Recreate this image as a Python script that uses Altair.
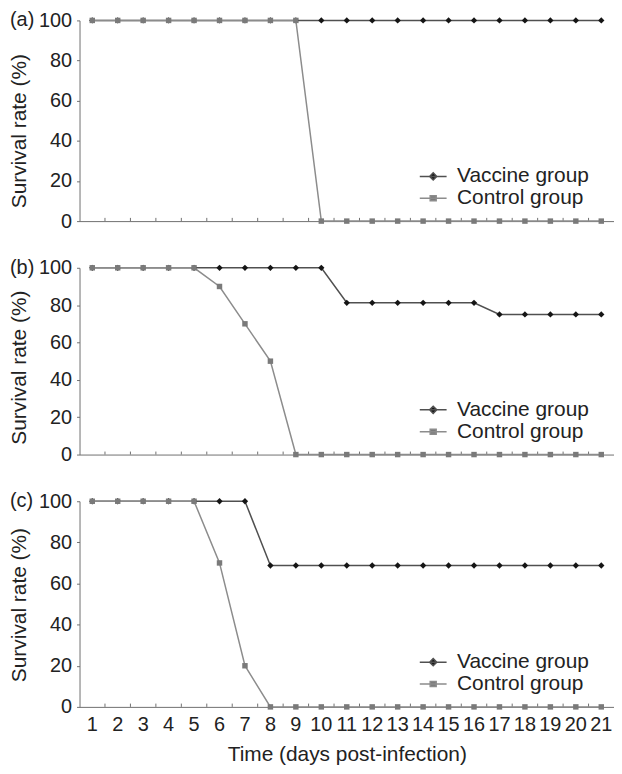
import altair as alt
import pandas as pd

# ---------------- data ----------------
days = [1, 2, 3, 4, 5, 6, 7, 8, 9, 10, 11, 12, 13, 14, 15, 16, 17, 18, 19, 20, 21]
groups = ["Vaccine group", "Control group"]
panel_labels = ["(a)", "(b)", "(c)"]
y_ticks = [0, 20, 40, 60, 80, 100]

vaccine_a = [100, 100, 100, 100, 100, 100, 100, 100, 100, 100, 100, 100, 100, 100, 100, 100, 100, 100, 100, 100, 100]
control_a = [100, 100, 100, 100, 100, 100, 100, 100, 100, 0, 0, 0, 0, 0, 0, 0, 0, 0, 0, 0, 0]

vaccine_b = [100, 100, 100, 100, 100, 100, 100, 100, 100, 100, 81.25, 81.25, 81.25, 81.25, 81.25, 81.25, 75, 75, 75, 75, 75]
control_b = [100, 100, 100, 100, 100, 90, 70, 50, 0, 0, 0, 0, 0, 0, 0, 0, 0, 0, 0, 0, 0]

vaccine_c = [100, 100, 100, 100, 100, 100, 100, 68.75, 68.75, 68.75, 68.75, 68.75, 68.75, 68.75, 68.75, 68.75, 68.75, 68.75, 68.75, 68.75, 68.75]
control_c = [100, 100, 100, 100, 100, 70, 20, 0, 0, 0, 0, 0, 0, 0, 0, 0, 0, 0, 0, 0, 0]

# ---------------- style ----------------
FONT = "Liberation Sans"
TEXT = "#222222"
AXIS = "#707070"
VAC_LINE = "#505050"
VAC_MARK = "#151515"
CON_LINE = "#8c8c8c"
CON_MARK = "#7a7a7a"
VAC_PATH = "M-1.35,0H1.35M0,-0.36L0.36,0L0,0.36L-0.36,0Z"
CON_PATH = "M-1.35,0H1.35M-0.3,-0.25H0.3V0.25H-0.3Z"
WIDTH = 538


def panel(label, vac, con, h, title_y, show_x):
    df = pd.DataFrame({
        "day": days + days,
        "rate": vac + con,
        "group": [groups[0]] * len(days) + [groups[1]] * len(days),
    })
    tick_df = pd.DataFrame({"day": days[1:], "rate": [0] * (len(days) - 1),
                            "rate2": [1.6] * (len(days) - 1)})
    lab_df = pd.DataFrame({"label": [label], "rate": [100]})

    xscale = alt.Scale(type="band", domain=days, paddingInner=0, paddingOuter=0)
    if show_x:
        xaxis = alt.Axis(title="Time (days post-infection)", titleFont=FONT, titleFontSize=21,
                         titleFontWeight="normal", titleColor=TEXT, titlePadding=9,
                         labelFont=FONT, labelFontSize=20, labelColor=TEXT, labelAngle=0,
                         labelPadding=8, labelOverlap=False, ticks=False, tickSize=0,
                         domainColor=AXIS, grid=False)
    else:
        xaxis = alt.Axis(title=None, labels=False, ticks=False, tickSize=0,
                         domainColor=AXIS, grid=False)
    yaxis = alt.Axis(values=y_ticks, title="Survival rate (%)", titleFont=FONT, titleFontSize=21,
                     titleFontWeight="normal", titleColor=TEXT, titleX=-60, titleY=title_y,
                     titleBaseline="middle", titleAlign="center", titleAngle=-90,
                     labelFont=FONT, labelFontSize=20, labelColor=TEXT, labelPadding=5,
                     tickSize=3, tickColor=AXIS, domainColor=AXIS, grid=False)
    x = alt.X("day:O", scale=xscale, axis=xaxis)
    y = alt.Y("rate:Q", scale=alt.Scale(domain=[0, 100], nice=False), axis=yaxis)

    base = alt.Chart(df)
    vac_f = base.transform_filter(alt.datum.group == groups[0])
    con_f = base.transform_filter(alt.datum.group == groups[1])

    vac_line = vac_f.mark_line(color=VAC_LINE, strokeWidth=1.5).encode(x=x, y=y)
    vac_pts = vac_f.mark_point(shape="diamond", filled=True, size=40, color=VAC_MARK,
                               opacity=1).encode(x=x, y=y)
    con_line = con_f.mark_line(color=CON_LINE, strokeWidth=1.5).encode(x=x, y=y)
    con_pts = con_f.mark_point(shape="square", filled=True, size=30, color=CON_MARK,
                               opacity=1).encode(x=x, y=y)

    ticks = alt.Chart(tick_df).mark_rule(color=AXIS, strokeWidth=1).encode(
        x=alt.X("day:O", scale=xscale, axis=xaxis, bandPosition=0),
        y=y, y2="rate2:Q")

    leg = alt.Legend(title=None, orient="none", legendX=345, legendY=h - 56,
                     labelFont=FONT, labelFontSize=21, labelColor=TEXT, labelOffset=13,
                     symbolSize=400, symbolStrokeWidth=1.5, rowPadding=1, padding=0,
                     labelLimit=300)
    legend_layer = base.transform_filter("false").mark_point(filled=True, opacity=1, size=400).encode(
        x=x, y=y,
        fill=alt.Fill("group:N", scale=alt.Scale(domain=groups, range=[VAC_MARK, CON_MARK]), legend=leg),
        stroke=alt.Stroke("group:N", scale=alt.Scale(domain=groups, range=[VAC_LINE, CON_LINE]), legend=leg),
        shape=alt.Shape("group:N", scale=alt.Scale(domain=groups, range=[VAC_PATH, CON_PATH]), legend=leg),
    )

    text = alt.Chart(lab_df).mark_text(align="left", baseline="middle", font=FONT, fontSize=20,
                                       color=TEXT).encode(x=alt.value(-70), y=y, text="label:N")

    return alt.layer(ticks, vac_line, vac_pts, con_line, con_pts, legend_layer, text).properties(
        width=WIDTH, height=h)


pa = panel(panel_labels[0], vaccine_a, control_a, 202, 111, False)
pb = panel(panel_labels[1], vaccine_b, control_b, 188, 100, False)
pc = panel(panel_labels[2], vaccine_c, control_c, 207, 104, True)

chart = alt.vconcat(pa, pb, pc, spacing=47, bounds="flush").resolve_scale(
    x="independent", y="independent", fill="independent", stroke="independent", shape="independent"
).resolve_legend(
    fill="independent", stroke="independent", shape="independent"
).properties(padding=0, background="white").configure_view(stroke=None)

chart.save("out.html", embed_options={"renderer": "svg", "actions": False})
